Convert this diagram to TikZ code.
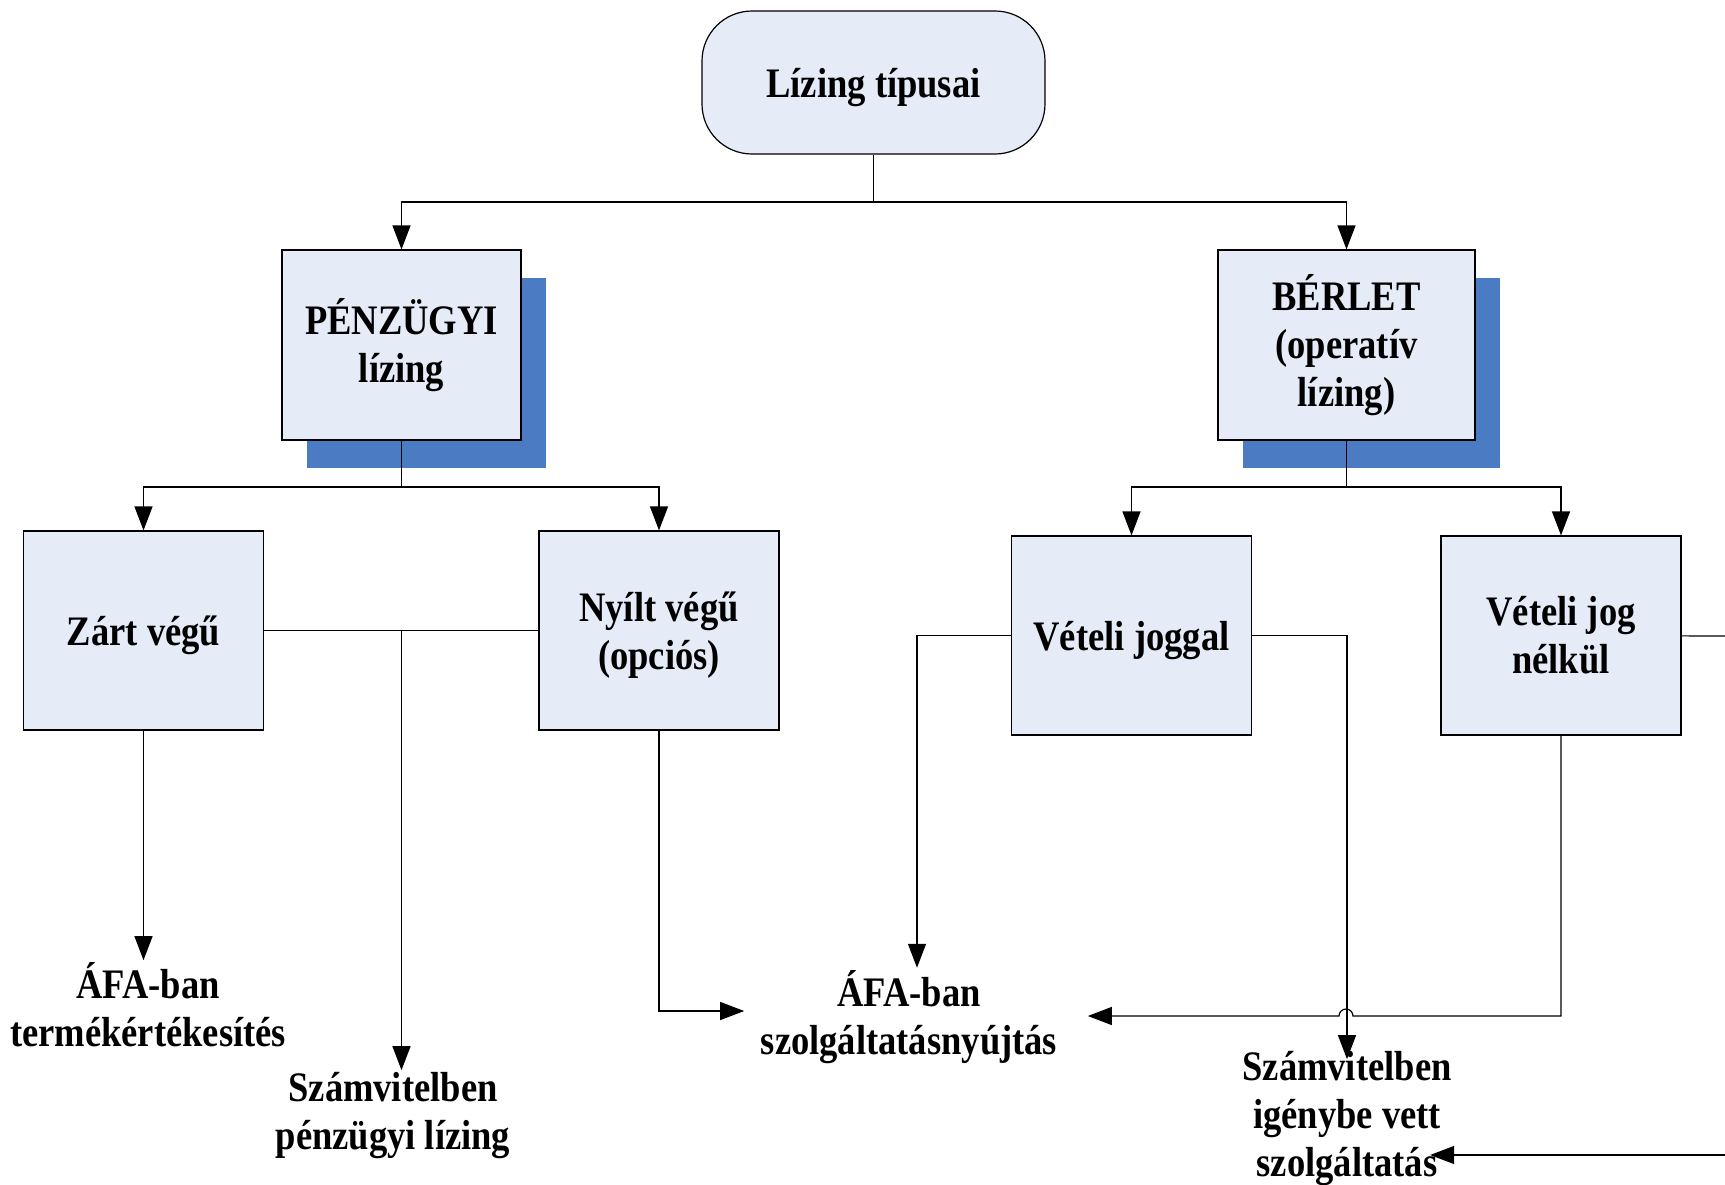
\documentclass[tikz,border=0pt]{standalone}
\usepackage{fontspec}
\setmainfont[FakeStretch=0.87]{Liberation Serif}
\usetikzlibrary{arrows.meta,shadows,calc}
\definecolor{boxfill}{HTML}{E6ECF7}
\definecolor{shadowblue}{HTML}{4A7BC3}
\begin{document}
\begin{tikzpicture}[x=.5pt,y=-.5pt,line width=.6pt,
  font=\fontsize{21}{24}\selectfont\bfseries,
  box/.style={draw,fill=boxfill,align=center,minimum width=120pt,minimum height=99.5pt},
  shadowbox/.style={box,general shadow={fill=shadowblue,shadow xshift=12.5pt,shadow yshift=-14pt},minimum height=95pt,minimum width=#1},
  lbl/.style={align=center,inner sep=1pt},
  arr/.style={-{Triangle[length=12pt,width=9pt]}}]
\useasboundingbox(0,0)rectangle(1725,1184);
\clip(0,0)rectangle(1725,1184);
\node[box,rounded corners=25pt,minimum width=171.5pt,minimum height=71.5pt,text depth=0pt](top)at(873.5,82.5){Lízing típusai};
\node[shadowbox=119.5pt](pen)at(401.5,345){PÉNZÜGYI\\lízing};
\node[shadowbox=128.5pt](ber)at(1346.5,345){BÉRLET\\(operatív\\lízing)};
\node[box,text depth=0pt](zart)at(143.5,630.5){Zárt végű};
\node[box,text depth=0pt](nyilt)at(659,630.5){Nyílt végű\\(opciós)};
\node[box,text depth=0pt](vj)at(1131.5,635.5){Vételi joggal};
\node[box](vjn)at(1561,635.5){Vételi jog\\nélkül};
\node[lbl](afat)at(148,1005){ÁFA-ban\\termékértékesítés};
\node[lbl](szp)at(393,1116){Számvitelben\\pénzügyi lízing};
\node[lbl](afasz)at(909,1017){ÁFA-ban\\szolgáltatásnyújtás};
\node[lbl](szig)at(1347,1119){Számvitelben\\igénybe vett\\szolgáltatás};
\coordinate(j0)at(873.5,202);
\coordinate(j1)at(401.5,487);
\coordinate(j2)at(1346.5,487);
\coordinate(j3)at(401.5,630.5);
\coordinate(hop)at(1353,1016);
\coordinate(r1)at(1725,636);
\coordinate(r2)at(1725,1155);
\draw(top)--(j0);
\draw[arr](j0)-|(pen);
\draw[arr](j0)-|(ber);
\draw(pen)--(j1);
\draw[arr](j1)-|(zart);
\draw[arr](j1)-|(nyilt);
\draw(ber)--(j2);
\draw[arr](j2)-|(vj);
\draw[arr](j2)-|(vjn);
\draw(zart)--(nyilt);
\draw[arr](j3)--(j3|-szp.north);
\draw[arr](zart)--(zart|-afat.north);
\draw[arr](nyilt)|-([xshift=-7pt,yshift=3pt]afasz.west);
\draw[arr](vj.west)-|([xshift=4pt]afasz.north);
\draw[arr](vj.east)-|([yshift=-5pt]szig.north);
\draw[arr](vjn)|-(hop)arc[start angle=0,end angle=180,radius=3.5pt]--([xshift=14pt]hop-|afasz.east);
\draw(vjn)--(r1);
\draw[arr](r2)--([xshift=-12pt]r2-|szig.east);
\end{tikzpicture}
\end{document}
